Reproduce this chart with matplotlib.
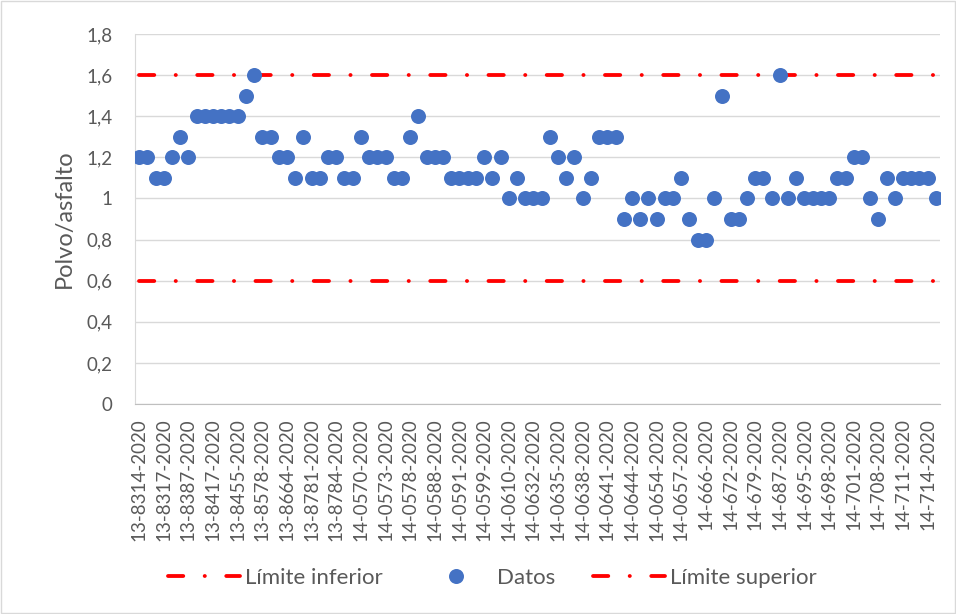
import matplotlib.pyplot as plt
from matplotlib.lines import Line2D
from matplotlib.patches import Rectangle
import numpy as np

plt.rcParams['font.family'] = ['Lato', 'DejaVu Sans']

# Polvo/asfalto values, one per sample
datos = [1.2, 1.2, 1.1, 1.1, 1.2, 1.3, 1.2, 1.4, 1.4, 1.4,
         1.4, 1.4, 1.4, 1.5, 1.6, 1.3, 1.3, 1.2, 1.2, 1.1,
         1.3, 1.1, 1.1, 1.2, 1.2, 1.1, 1.1, 1.3, 1.2, 1.2,
         1.2, 1.1, 1.1, 1.3, 1.4, 1.2, 1.2, 1.2, 1.1, 1.1,
         1.1, 1.1, 1.2, 1.1, 1.2, 1.0, 1.1, 1.0, 1.0, 1.0,
         1.3, 1.2, 1.1, 1.2, 1.0, 1.1, 1.3, 1.3, 1.3, 0.9,
         1.0, 0.9, 1.0, 0.9, 1.0, 1.0, 1.1, 0.9, 0.8, 0.8,
         1.0, 1.5, 0.9, 0.9, 1.0, 1.1, 1.1, 1.0, 1.6, 1.0,
         1.1, 1.0, 1.0, 1.0, 1.0, 1.1, 1.1, 1.2, 1.2, 1.0,
         0.9, 1.1, 1.0, 1.1, 1.1, 1.1, 1.1, 1.0]
limite_inferior = [0.6] * len(datos)
limite_superior = [1.6] * len(datos)

# only every third sample is labelled on the axis
etiquetas = ['13-8314-2020', '13-8317-2020', '13-8387-2020', '13-8417-2020',
             '13-8455-2020', '13-8578-2020', '13-8664-2020', '13-8781-2020',
             '13-8784-2020', '14-0570-2020', '14-0573-2020', '14-0578-2020',
             '14-0588-2020', '14-0591-2020', '14-0599-2020', '14-0610-2020',
             '14-0632-2020', '14-0635-2020', '14-0638-2020', '14-0641-2020',
             '14-0644-2020', '14-0654-2020', '14-0657-2020', '14-666-2020',
             '14-672-2020', '14-679-2020', '14-687-2020', '14-695-2020',
             '14-698-2020', '14-701-2020', '14-708-2020', '14-711-2020',
             '14-714-2020']
paso_etiqueta = 3

rojo = '#FF0000'
azul = '#4472C4'
gris_texto = '#595959'
patron = (0, (4, 5.6, 0.05, 5.6))

fig = plt.figure(figsize=(9.56, 6.14), dpi=100)
ax = fig.add_axes([0.1412, 0.342, 0.9833 - 0.1412, 0.9446 - 0.342])

x = np.arange(len(datos))
ax.plot(x, limite_inferior, color=rojo, lw=2.75, linestyle=patron,
        dash_capstyle='round', zorder=2)
ax.plot(x, limite_superior, color=rojo, lw=2.75, linestyle=patron,
        dash_capstyle='round', zorder=2)
ax.plot(x, datos, linestyle='none', marker='o', markersize=10.8,
        color=azul, markeredgewidth=0, zorder=3)

ax.set_xlim(-0.5, len(datos) - 0.5)
ax.set_ylim(0, 1.8)
ax.set_yticks(np.arange(0, 1.81, 0.2))
ax.set_yticklabels([('%g' % v).replace('.', ',') for v in np.arange(0, 1.81, 0.2)])
ax.set_xticks(x[::paso_etiqueta])
ax.set_xticklabels(etiquetas, rotation=90)

ax.grid(axis='y', color='#D9D9D9', lw=1.0, zorder=0)
ax.set_axisbelow(True)
for lado in ['top', 'right']:
    ax.spines[lado].set_visible(False)
ax.spines['left'].set_color('#D9D9D9')
ax.spines['bottom'].set_color('#BFBFBF')
ax.tick_params(axis='y', length=0, pad=16.5, labelsize=13.5, labelcolor=gris_texto)
ax.tick_params(axis='x', length=0, pad=10, labelsize=13.5, labelcolor=gris_texto)
ax.set_ylabel('Polvo/asfalto', fontsize=17, color=gris_texto, labelpad=8)

handles = [
    Line2D([], [], color=rojo, lw=2.75, linestyle=patron, dash_capstyle='round'),
    Line2D([], [], linestyle='none', marker='o', markersize=10.8, color=azul,
           markeredgewidth=0),
    Line2D([], [], color=rojo, lw=2.75, linestyle=patron, dash_capstyle='round'),
]
fig.legend(handles, ['Límite inferior', 'Datos', 'Límite superior'],
           loc='center', bbox_to_anchor=(0.515, 0.0586), ncol=3, frameon=False,
           fontsize=16, labelcolor=gris_texto, handlelength=3.25,
           handletextpad=0.23, columnspacing=1.67)

fig.patches.append(Rectangle((0.001, 0.001), 0.998, 0.998, transform=fig.transFigure,
                             fill=False, edgecolor='#D9D9D9', lw=1))

fig.savefig('out.png', dpi=100)
